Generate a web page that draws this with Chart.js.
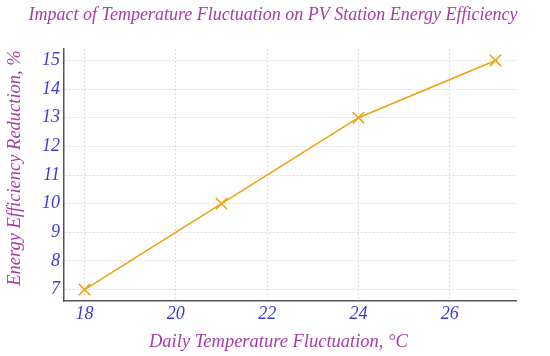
<!DOCTYPE html>
<html>
<head>
<meta charset="utf-8">
<script src="https://cdn.jsdelivr.net/npm/chart.js@4"></script>
<style>
  html, body { margin: 0; padding: 0; background: #fff; }
  #wrap { width: 550px; height: 356px; }
</style>
</head>
<body>
<div id="wrap"><canvas id="chart" width="550" height="356"></canvas></div>
<script>
// --------------------
// Data
// --------------------
const tempFluctuation = [18, 21, 24, 27];
const efficiencyReduction = [7, 10, 13, 15];

const purple = "#a93ba9";
const blue = "#3b3bd6";
const orange = "#eea00e";
const serif = "'Liberation Serif', 'DejaVu Serif', serif";

const points = tempFluctuation.map((t, i) => ({ x: t, y: efficiencyReduction[i] }));

new Chart(document.getElementById("chart"), {
  type: "line",
  data: {
    datasets: [
      {
        data: points,
        borderColor: orange,
        backgroundColor: orange,
        borderWidth: 1.5,
        pointStyle: "crossRot",
        pointRadius: 8,
        pointBorderWidth: 1.5,
        tension: 0
      }
    ]
  },
  options: {
    responsive: false,
    animation: false,
    layout: { padding: { top: 4, right: 4, left: 0, bottom: 0 } },
    plugins: {
      legend: { display: false },
      tooltip: { enabled: false },
      title: {
        display: true,
        text: "Impact of Temperature Fluctuation on PV Station Energy Efficiency",
        color: purple,
        font: { family: serif, size: 18, style: "italic", weight: "normal" },
        padding: { top: 0, bottom: 23.4 }
      }
    },
    scales: {
      x: {
        type: "linear",
        min: 17.55,
        max: 27.45,
        border: { display: true, color: "#555", width: 1.5, dash: [2, 2] },
        grid: { color: "#dcdcdc", drawTicks: false },
        ticks: {
          stepSize: 2,
          includeBounds: false,
          color: blue,
          padding: 2,
          font: { family: serif, size: 18, style: "italic" }
        },
        title: {
          display: true,
          text: "Daily Temperature Fluctuation, °C     ",
          color: purple,
          font: { family: serif, size: 18.5, style: "italic" },
          padding: { top: 4, bottom: 3 }
        },
        afterFit: (scale) => { scale.height = 55; }
      },
      y: {
        type: "linear",
        min: 6.6,
        max: 15.4,
        border: { display: true, color: "#555", width: 1.5, dash: [2, 2] },
        grid: { color: "#dcdcdc", drawTicks: false },
        ticks: {
          stepSize: 1,
          includeBounds: false,
          color: blue,
          padding: 4,
          font: { family: serif, size: 18, style: "italic" }
        },
        title: {
          display: true,
          text: "   Energy Efficiency Reduction, %",
          color: purple,
          font: { family: serif, size: 18.5, style: "italic" },
          padding: { bottom: 3 }
        },
        afterFit: (scale) => { scale.width = 64; }
      },
      // empty right-hand box, keeps the plot clear of the right edge
      yRight: {
        position: "right",
        display: true,
        grid: { display: false },
        border: { display: false },
        ticks: { display: false },
        afterFit: (scale) => { scale.width = 30; }
      }
    }
  }
});
</script>
</body>
</html>
